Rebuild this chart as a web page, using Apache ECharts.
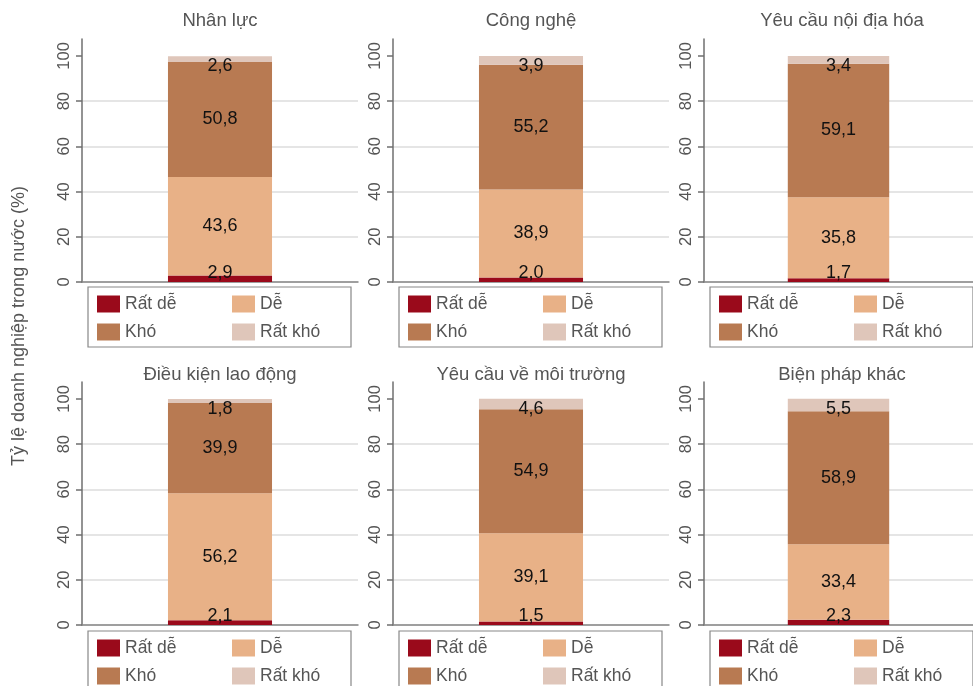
<!DOCTYPE html>
<html><head><meta charset="utf-8">
<script src="https://cdn.jsdelivr.net/npm/echarts@6/dist/echarts.min.js"></script>
<style>html,body{margin:0;padding:0;background:#fff}#c{width:973px;height:686px}</style>
</head><body><div id="c"></div>
<script>
const panels = ['Nhân lực', 'Công nghệ', 'Yêu cầu nội địa hóa', 'Điều kiện lao động', 'Yêu cầu về môi trường', 'Biện pháp khác'];
const levels = ['Rất dễ', 'Dễ', 'Khó', 'Rất khó'];
const ratDe  = [2.9, 2.0, 1.7, 2.1, 1.5, 2.3];
const de     = [43.6, 38.9, 35.8, 56.2, 39.1, 33.4];
const kho    = [50.8, 55.2, 59.1, 39.9, 54.9, 58.9];
const ratKho = [2.6, 3.9, 3.4, 1.8, 4.6, 5.5];
const yTicks = [0, 20, 40, 60, 80, 100];
const yTitle = 'Tỷ lệ doanh nghiệp trong nước (%)';

const FONT = '"Liberation Sans", Arial, Helvetica, sans-serif';
const colors = ['#9a0a1b', '#e8b187', '#b87a52', '#dfc6ba'];
const lefts = [82, 393, 704];
const tops = [39, 382];
const legendTops = [287, 631];
const titleTops = [11, 365];
const PW = 276, PH = 243;
const values = [ratDe, de, kho, ratKho];

const grids = [], xAxes = [], yAxes = [], series = [], titles = [], legends = [];
for (let i = 0; i < 6; i++) {
  const col = i % 3, row = Math.floor(i / 3);
  const x0 = lefts[col], y0 = tops[row];
  grids.push({left: x0, top: y0, width: PW, height: PH});
  xAxes.push({
    type: 'category', gridIndex: i, data: [panels[i]],
    axisLine: {lineStyle: {color: '#888', width: 1.5}},
    axisTick: {show: false}, axisLabel: {show: false}, splitLine: {show: false}
  });
  yAxes.push({
    type: 'value', gridIndex: i, min: 0, max: 107.5, interval: 20,
    axisLine: {show: true, lineStyle: {color: '#6f6f6f', width: 1.5}},
    axisTick: {show: true, length: 6, customValues: yTicks, lineStyle: {color: '#6f6f6f', width: 1.5}},
    axisLabel: {customValues: yTicks, rotate: 90, margin: 9, color: '#555', fontSize: 16.5, fontFamily: FONT},
    splitLine: {show: true, showMaxLine: false, lineStyle: {color: '#dcdcdc', width: 1.5}}
  });
  titles.push({
    text: panels[i], left: x0 + PW / 2, top: titleTops[row], textAlign: 'center', padding: 0,
    textStyle: {color: '#555', fontSize: 18.5, fontWeight: 'normal', fontFamily: FONT}
  });
  levels.forEach((lv, k) => {
    let label = {show: true, position: 'inside', color: '#111', fontSize: 18, fontFamily: FONT,
      formatter: p => p.value.toFixed(1).replace('.', ',')};
    if (k === 0) { label.position = 'insideBottom'; label.distance = 0; }
    if (k === 3) { label.position = 'insideTop'; label.distance = 1; }
    series.push({
      type: 'bar', name: lv, xAxisIndex: i, yAxisIndex: i, stack: 's' + i,
      barWidth: '37.7%', itemStyle: {color: colors[k]},
      label: label, emphasis: {disabled: true},
      data: [values[k][i]]
    });
  });
  legends.push({
    data: levels, left: x0 + 6, top: legendTops[row], width: 245, orient: 'horizontal',
    itemWidth: 23, itemHeight: 17, itemGap: 10, padding: [8, 14, 6, 9],
    borderColor: '#888', borderWidth: 1.2, selectedMode: false, icon: 'rect',
    formatter: n => (n === 'Rất dễ' || n === 'Khó') ? '{a|' + n + '}' : '{b|' + n + '}',
    textStyle: {
      color: '#555', fontSize: 17.5, fontFamily: FONT,
      rich: {
        a: {width: 97, fontSize: 17.5, color: '#555', fontFamily: FONT, lineHeight: 17},
        b: {width: 77, fontSize: 17.5, color: '#555', fontFamily: FONT, lineHeight: 17}
      }
    }
  });
}

const chart = echarts.init(document.getElementById('c'), null, {renderer: 'canvas'});
chart.setOption({
  animation: false,
  color: colors,
  title: titles,
  legend: legends,
  grid: grids,
  xAxis: xAxes,
  yAxis: yAxes,
  series: series,
  graphic: [{
    type: 'text', x: 19, y: 326, rotation: Math.PI / 2,
    style: {text: yTitle, fill: '#555', fontSize: 18, fontFamily: FONT, align: 'center', verticalAlign: 'middle'}
  }]
});
</script></body></html>
